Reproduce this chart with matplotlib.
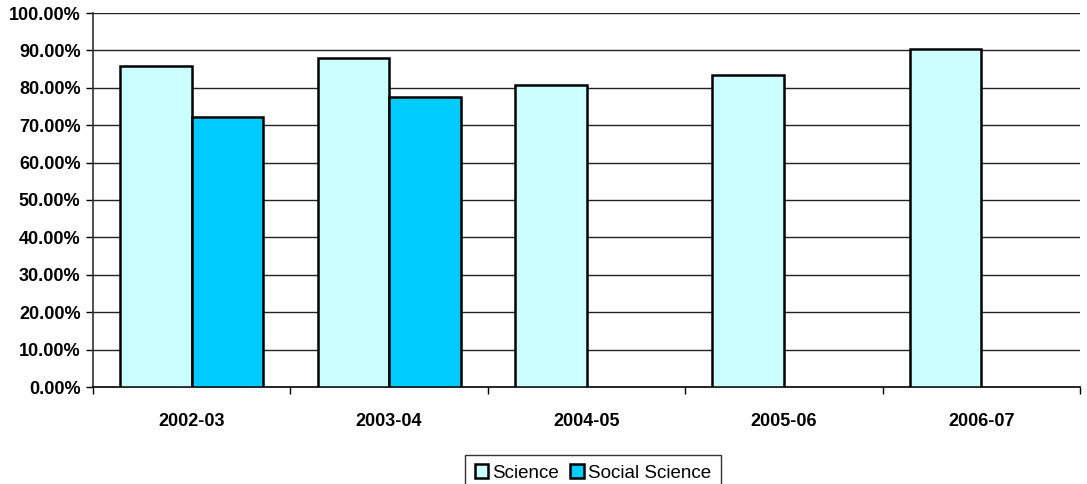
import matplotlib
matplotlib.use("Agg")
import matplotlib.pyplot as plt
import numpy as np
from matplotlib.ticker import FuncFormatter, FixedLocator

categories = ["2002-03", "2003-04", "2004-05", "2005-06", "2006-07"]
science = [85.8, 88.1, 80.7, 83.5, 90.4]
social_science = [72.1, 77.6, None, None, None]
yticks = [0, 10, 20, 30, 40, 50, 60, 70, 80, 90, 100]

plt.rcParams['font.family'] = ['Liberation Sans', 'DejaVu Sans']

fig = plt.figure(figsize=(10.87, 4.84), dpi=100)
ax = fig.add_axes([93/1087, 1-387/484, (1080-93)/1087, (387-13)/484])

x = np.arange(len(categories))
w = 0.362
ax.bar(x - w/2, science, width=w, color="#CCFFFF", edgecolor="black", linewidth=1.8,
       label="Science", zorder=3)
sx = [xi + w/2 for xi, v in zip(x, social_science) if v is not None]
sv = [v for v in social_science if v is not None]
ax.bar(sx, sv, width=w, color="#00CCFF", edgecolor="black", linewidth=1.8,
       label="Social Science", zorder=3)

ax.set_xlim(-0.5, len(categories) - 0.5)
ax.set_ylim(0, 100)
ax.set_yticks(yticks)
ax.yaxis.set_major_formatter(FuncFormatter(lambda v, p: f"{v:.2f}%"))
for t in yticks[1:]:
    ax.axhline(t, color="#222222", linewidth=1.0, zorder=1)

ax.set_xticks(x)
ax.set_xticklabels(categories, fontweight="bold", fontsize=13)
ax.xaxis.set_minor_locator(FixedLocator(np.arange(-0.5, len(categories), 1.0)))
ax.tick_params(axis="x", which="major", length=0, pad=19)
ax.tick_params(axis="x", which="minor", length=5, width=1, direction="out")
ax.tick_params(axis="y", length=5, width=1, direction="out", pad=4)
for lab in ax.get_yticklabels():
    lab.set_fontweight("bold")
    lab.set_fontsize(13)

for s in ["top", "right"]:
    ax.spines[s].set_visible(False)
ax.spines["left"].set_color("#333333")
ax.spines["left"].set_linewidth(1.2)
ax.spines["bottom"].set_color("black")
ax.spines["bottom"].set_linewidth(1.2)

leg = fig.legend(loc="center", bbox_to_anchor=(593/1087, 1-473/484), ncol=2,
                 frameon=True, fancybox=False, edgecolor="black", fontsize=13.5,
                 handlelength=0.7, handleheight=0.7, handletextpad=0.25,
                 columnspacing=0.6, borderpad=0.5, borderaxespad=0)
leg.get_frame().set_linewidth(1.0)

fig.savefig("out.png", dpi=100)
